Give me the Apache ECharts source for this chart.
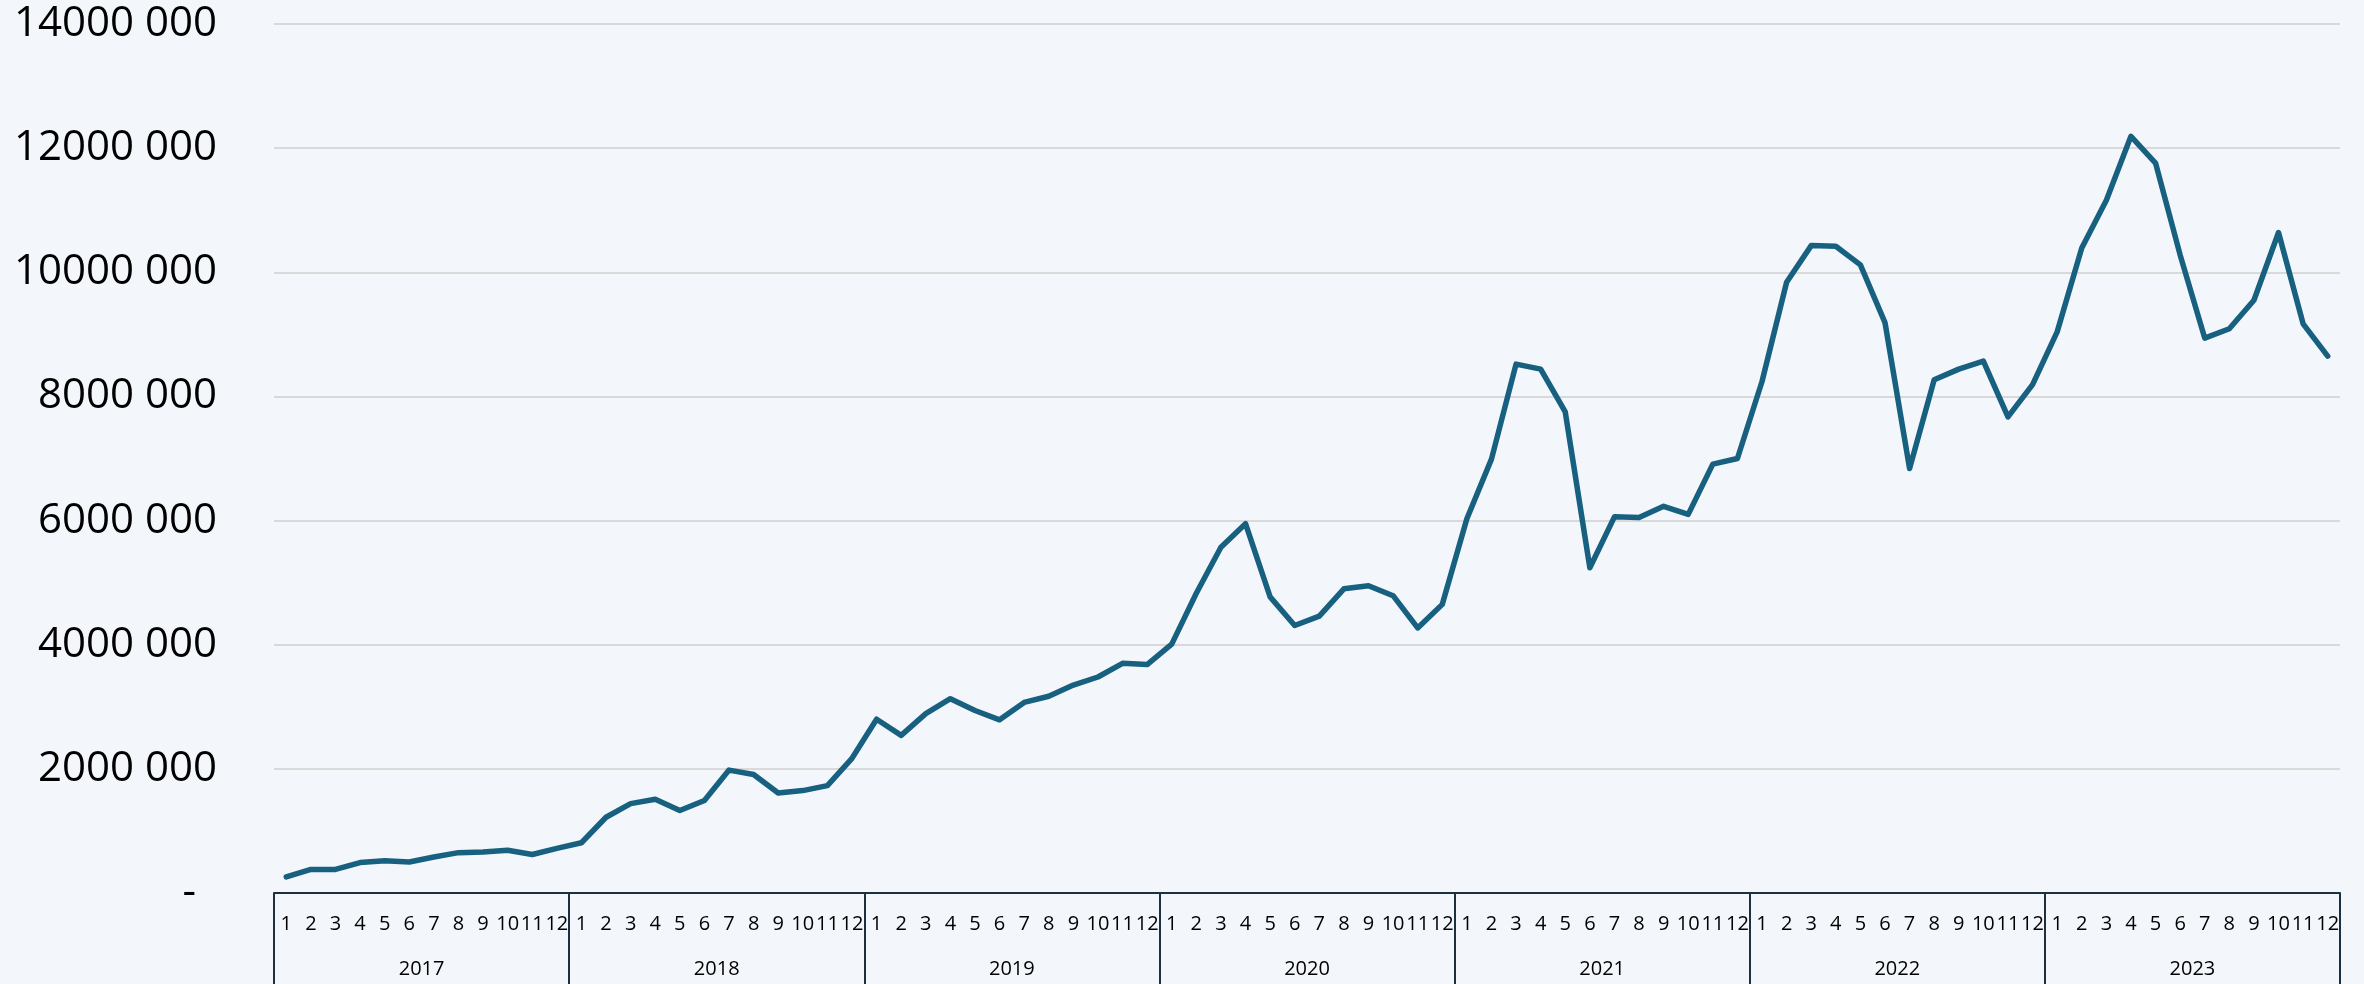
<!DOCTYPE html>
<html>
<head>
<meta charset="utf-8">
<script src="https://cdn.jsdelivr.net/npm/echarts@6/dist/echarts.min.js"></script>
<style>
html,body{margin:0;padding:0;background:#f3f6fb;}
#chart{width:2364px;height:984px;}
</style>
</head>
<body>
<div id="chart"></div>
<script>
// Data
const years = ['2017','2018','2019','2020','2021','2022','2023'];
const monthLabels = ['1','2','3','4','5','6','7','8','9','10','11','12'];
const v2017 = [260000,380000,380000,490000,520000,500000,580000,650000,660000,690000,620000,720000];
const v2018 = [810000,1220000,1440000,1510000,1330000,1490000,1980000,1910000,1610000,1650000,1730000,2170000];
const v2019 = [2800000,2540000,2890000,3130000,2940000,2790000,3070000,3170000,3350000,3480000,3700000,3680000];
const v2020 = [4010000,4830000,5570000,5950000,4770000,4310000,4460000,4900000,4950000,4790000,4270000,4650000];
const v2021 = [6030000,6990000,8520000,8440000,7750000,5240000,6060000,6050000,6230000,6100000,6910000,7000000];
const v2022 = [8240000,9840000,10430000,10420000,10120000,9190000,6840000,8270000,8440000,8570000,7670000,8190000];
const v2023 = [9040000,10390000,11160000,12190000,11760000,10280000,8940000,9090000,9550000,10640000,9170000,8650000];
const yTicks = [0,2000000,4000000,6000000,8000000,10000000,12000000,14000000];

const seriesValues = [].concat(v2017,v2018,v2019,v2020,v2021,v2022,v2023);
const monthCats = [];
years.forEach(y => monthLabels.forEach(m => monthCats.push(y + '-' + m)));

const chart = echarts.init(document.getElementById('chart'), null, {renderer:'canvas'});
const dark = '#1d3040';
const font = '"Open Sans", sans-serif';

chart.setOption({
  backgroundColor: '#f3f6fb',
  animation: false,
  grid: {left: 274, right: 24, top: 24, bottom: 91, containLabel: false},
  xAxis: [
    {
      type: 'category',
      data: monthCats,
      boundaryGap: true,
      position: 'bottom',
      axisLine: {show: true, lineStyle: {color: dark, width: 2}},
      axisTick: {show: false},
      axisLabel: {
        interval: 0,
        hideOverlap: false,
        margin: 21,
        color: '#000',
        fontFamily: font,
        fontSize: 20,
        formatter: v => v.split('-')[1]
      },
      splitLine: {show: false}
    },
    {
      type: 'category',
      data: years,
      boundaryGap: true,
      position: 'bottom',
      axisLine: {show: false},
      axisTick: {show: true, length: 92, lineStyle: {color: dark, width: 2}},
      axisLabel: {
        interval: 0,
        margin: 66,
        color: '#000',
        fontFamily: font,
        fontSize: 20
      },
      splitLine: {show: false}
    }
  ],
  yAxis: {
    type: 'value',
    min: yTicks[0],
    max: yTicks[yTicks.length - 1],
    interval: yTicks[1] - yTicks[0],
    axisLine: {show: false},
    axisTick: {show: false},
    splitLine: {show: true, lineStyle: {color: '#d9d9d9', width: 2}},
    axisLabel: {
      margin: 57,
      color: '#000',
      fontFamily: font,
      fontSize: 42,
      formatter: v => v === 0 ? '{z|-}' : (v / 1000) + ' 000',
      rich: {z: {fontFamily: font, fontSize: 42, color: '#000', padding: [0, 21, 0, 0]}}
    }
  },
  series: [{
    type: 'line',
    xAxisIndex: 0,
    data: seriesValues,
    showSymbol: false,
    symbol: 'none',
    lineStyle: {color: '#17607f', width: 5.5, join: 'round', cap: 'round'},
    itemStyle: {color: '#17607f'}
  }]
});
</script>
</body>
</html>
